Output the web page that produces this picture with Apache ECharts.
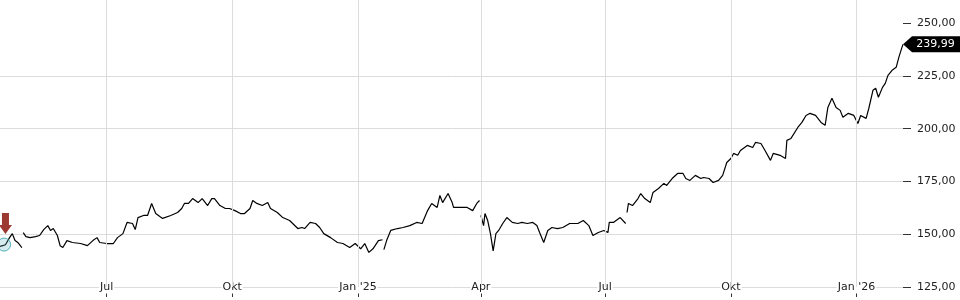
<!DOCTYPE html>
<html><head><meta charset="utf-8">
<script src="https://cdn.jsdelivr.net/npm/echarts@6/dist/echarts.min.js"></script>
<style>html,body{margin:0;padding:0;background:#fff}#c{width:960px;height:300px}</style>
</head><body><div id="c"></div>
<script>
const dates = [
'2024-04-14','2024-04-16','2024-04-18','2024-04-21','2024-04-23','2024-04-25','2024-04-27','2024-04-30','2024-04-30',
'2024-05-01','2024-05-03','2024-05-06','2024-05-10','2024-05-13','2024-05-16','2024-05-19','2024-05-21','2024-05-23','2024-05-26','2024-05-28','2024-05-30',
'2024-06-02','2024-06-06','2024-06-12','2024-06-17','2024-06-21','2024-06-24','2024-06-26',
'2024-07-01','2024-07-06','2024-07-09','2024-07-13','2024-07-16','2024-07-20','2024-07-22','2024-07-24','2024-07-28','2024-07-31',
'2024-08-03','2024-08-06','2024-08-09','2024-08-11','2024-08-17','2024-08-22','2024-08-25','2024-08-27','2024-08-30',
'2024-09-02','2024-09-06','2024-09-09','2024-09-13','2024-09-16','2024-09-18','2024-09-22','2024-09-26','2024-09-29',
'2024-10-03','2024-10-07','2024-10-10','2024-10-14','2024-10-16','2024-10-19','2024-10-23','2024-10-27','2024-10-29',
'2024-11-03','2024-11-07','2024-11-12','2024-11-18','2024-11-21','2024-11-23','2024-11-27',
'2024-12-01','2024-12-04','2024-12-07','2024-12-12','2024-12-17','2024-12-21','2024-12-26','2024-12-30',
'2025-01-03','2025-01-06','2025-01-09','2025-01-12','2025-01-16','2025-01-19','2025-01-19','2025-01-20','2025-01-22','2025-01-25','2025-01-30',
'2025-02-03','2025-02-08','2025-02-13','2025-02-17','2025-02-21','2025-02-24','2025-02-28',
'2025-03-02','2025-03-04','2025-03-08','2025-03-11','2025-03-12','2025-03-17','2025-03-22','2025-03-26','2025-03-29','2025-03-31','2025-03-31',
'2025-04-01','2025-04-03','2025-04-04','2025-04-06','2025-04-08','2025-04-10','2025-04-12','2025-04-14','2025-04-17','2025-04-20','2025-04-24','2025-04-28',
'2025-05-01','2025-05-05','2025-05-09','2025-05-12','2025-05-14','2025-05-17','2025-05-20','2025-05-23','2025-05-27','2025-05-31',
'2025-06-05','2025-06-11','2025-06-15','2025-06-19','2025-06-22','2025-06-26','2025-06-30',
'2025-07-03','2025-07-04','2025-07-07','2025-07-12','2025-07-16','2025-07-16','2025-07-17','2025-07-18','2025-07-21','2025-07-25','2025-07-27','2025-07-30',
'2025-08-03','2025-08-05','2025-08-09','2025-08-13','2025-08-15','2025-08-19','2025-08-23','2025-08-27','2025-08-29',
'2025-09-01','2025-09-05','2025-09-09','2025-09-11','2025-09-15','2025-09-18','2025-09-22','2025-09-25','2025-09-28',
'2025-10-01','2025-10-03','2025-10-06','2025-10-08','2025-10-13','2025-10-17','2025-10-19','2025-10-23','2025-10-26','2025-10-30',
'2025-11-01','2025-11-06','2025-11-10','2025-11-11','2025-11-14','2025-11-19','2025-11-22','2025-11-25','2025-11-28',
'2025-12-02','2025-12-06','2025-12-09','2025-12-11','2025-12-14','2025-12-17','2025-12-20','2025-12-22','2025-12-26','2025-12-30',
'2026-01-02','2026-01-04','2026-01-08','2026-01-10','2026-01-13','2026-01-15','2026-01-17','2026-01-20','2026-01-22','2026-01-24','2026-01-27','2026-01-30',
'2026-02-01','2026-02-03','2026-02-04'
];
const values = [
144.2,144.6,145.0,148.4,150.3,147.0,146.1,143.7,null,
150.8,148.9,148.4,148.9,149.4,152.2,154.1,151.8,152.7,149.4,144.6,143.7,
147.0,146.1,145.6,144.6,147.0,148.4,146.1,
145.6,145.6,148.4,150.3,155.6,155.1,152.2,157.9,158.9,158.9,
164.6,159.8,158.4,157.5,158.9,160.3,162.2,164.6,164.6,
166.9,165.0,166.9,163.6,166.9,166.9,163.6,162.2,162.2,
161.2,159.8,159.8,162.2,166.0,164.6,163.6,165.0,162.2,
160.3,157.9,156.5,152.7,153.2,152.7,155.6,
155.1,153.2,150.3,148.4,146.1,145.6,143.7,145.6,
143.1,145.6,141.4,143.1,147.0,147.4,null,142.7,147.0,151.8,152.7,
153.2,154.1,155.6,155.1,161.2,164.6,162.7,
168.4,165.0,169.3,165.0,162.7,162.7,162.7,161.2,164.6,166.0,null,
158.9,154.1,159.8,156.5,150.3,142.1,150.3,151.8,155.1,157.9,155.6,155.1,
155.6,155.1,155.6,154.1,150.8,146.1,151.8,153.2,152.7,153.2,
155.1,155.1,156.5,154.1,149.4,150.8,151.8,
150.8,155.6,155.6,157.9,155.1,null,160.3,164.6,163.6,166.9,169.3,166.9,
165.0,169.8,171.7,174.1,173.1,176.4,178.8,178.8,176.4,
175.5,177.9,176.4,176.9,176.4,174.5,175.5,177.9,184.0,
185.9,188.3,187.4,189.7,192.1,191.1,193.5,193.0,189.7,185.0,
188.3,187.4,185.9,194.5,195.4,200.6,203.0,206.3,207.3,
206.3,203.0,201.6,210.1,214.4,210.1,208.7,205.4,207.3,206.3,
202.5,206.3,204.9,209.7,218.2,219.2,214.9,219.6,221.5,225.3,227.7,229.1,
233.9,238.1,239.99
];
const xTickDates = ['2024-07-01','2024-10-01','2025-01-01','2025-04-01','2025-07-01','2025-10-01','2026-01-01'];
const xTickLabels = ['Jul','Okt',"Jan '25",'Apr','Jul','Okt',"Jan '26"];
const yTicks = [125,150,175,200,225,250];
const xStart = '2024-04-14', xEnd = '2026-02-04';
const yMin = 125, yMax = 261;
const lastDate = '2026-02-04', lastValue = 239.99;
const eventDate = '2024-04-17', eventValue = 145.1;
const arrowDate = '2024-04-18', arrowValue = 155.1;

const parse = s => +echarts.time.parse(s);
const xTickVals = xTickDates.map(parse);
const fmtNum = v => v.toFixed(2).replace('.', ',');
const FONT = 'DejaVu Sans';

const chart = echarts.init(document.getElementById('c'), null, {renderer: 'canvas'});
chart.setOption({
  animation: false,
  backgroundColor: '#fff',
  grid: {left: 0, right: 57, top: 0, bottom: 13, containLabel: false},
  xAxis: {
    type: 'value',
    min: parse(xStart), max: parse(xEnd),
    axisLine: {show: false},
    axisTick: {show: true, length: 10, lineStyle: {color: '#333'}, customValues: xTickVals},
    axisLabel: {
      customValues: xTickVals,
      fontFamily: FONT, fontSize: 11, color: '#222',
      verticalAlign: 'middle', margin: 0,
      backgroundColor: '#fff', padding: [1, 1],
      formatter: function (v) {
        let best = -1, bd = Infinity;
        xTickVals.forEach((t, i) => { const d = Math.abs(t - v); if (d < bd) { bd = d; best = i; } });
        return bd < 86400000 ? xTickLabels[best] : '';
      }
    },
    splitLine: {show: false}
  },
  yAxis: {
    type: 'value', position: 'right',
    min: yMin, max: yMax, interval: 25,
    axisLine: {show: false},
    axisTick: {show: true, length: 8, lineStyle: {color: '#333'}, customValues: yTicks},
    axisLabel: {customValues: yTicks, fontFamily: FONT, fontSize: 11, color: '#222', margin: 14,
      formatter: v => fmtNum(v)},
    splitLine: {show: true, showMaxLine: false, lineStyle: {color: '#dcdcdc', width: 1}}
  },
  series: [{
    type: 'line', data: [], z: 1, silent: true,
    markLine: {
      silent: true, symbol: 'none', animation: false,
      label: {show: false},
      lineStyle: {color: '#dcdcdc', width: 1, type: 'solid'},
      data: xTickVals.map(v => ({xAxis: v}))
    }
  }, {
    type: 'line',
    data: dates.map((d, i) => [parse(d), values[i]]),
    showSymbol: false,
    connectNulls: false,
    lineStyle: {color: '#000', width: 1.2},
    z: 3,
    markPoint: {
      silent: true,
      data: [
        {coord: [parse(eventDate), eventValue], symbol: 'circle', symbolSize: 13,
         itemStyle: {color: 'rgba(90,180,190,0.25)', borderColor: '#4fb0bb', borderWidth: 1},
         label: {show: false}},
        {coord: [parse(arrowDate), arrowValue], symbol: 'path://M3,0 L10,0 L10,12 L13,12 L6.5,21 L0,12 L3,12 Z',
         symbolSize: [13, 21], itemStyle: {color: '#9c3a31'}, label: {show: false}},
        {coord: [parse(lastDate), lastValue], symbol: 'path://M0,8 L9,0 L57,0 L57,16 L9,16 Z',
         symbolSize: [57, 16], symbolOffset: [28.5, 0], symbolKeepAspect: false,
         itemStyle: {color: '#000'},
         label: {show: true, position: 'inside', offset: [4, 0], formatter: fmtNum(lastValue),
           color: '#fff', fontFamily: FONT, fontSize: 11}}
      ]
    }
  }]
});
</script>
</body></html>
